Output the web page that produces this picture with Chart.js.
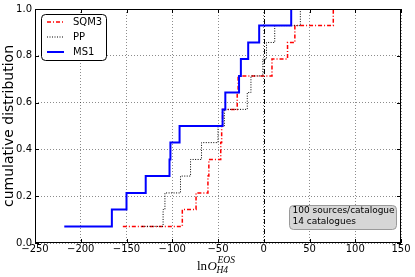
<!DOCTYPE html>
<html>
<head>
<meta charset="utf-8">
<script src="https://cdn.jsdelivr.net/npm/chart.js@4.4.0/dist/chart.umd.min.js"></script>
<style>
html,body{margin:0;padding:0;background:#fff;}
#c{display:block;}
</style>
</head>
<body>
<canvas id="c" width="415" height="277"></canvas>
<script>
/* cumulative distribution of ln O per catalogue, three models */

var cdfLevels=[0.071,0.143,0.214,0.286,0.357,0.429,0.5,0.571,0.643,0.714,0.786,0.857,0.929,1.0];
var sqm3X=[-154,-89,-74,-61,-60,-47,-46,-45,-29,-28,9,26,34,76];
var ppX=[-133,-110,-108,-91,-80,-68,-50,-43,-18,-14,-1,3,12,40];
var ms1X=[-218,-166,-150,-129,-103,-102,-92,-45,-42,-27,-25,-17,-5,30];
var seriesNames=['SQM3','PP','MS1'];
var xTicks=[-250,-200,-150,-100,-50,0,50,100,150];
var yTicks=[0,0.2,0.4,0.6,0.8,1.0];
var noteLines=['100 sources/catalogue','14 catalogues'];

function pts(xs){
  return xs.map(function(x,i){ return {x:x,y:cdfLevels[i]}; });
}

var FONT='"DejaVu Sans", sans-serif';

var decor={
  id:'decor',
  beforeDatasetsDraw:function(chart){
    var a=chart.chartArea,ctx=chart.ctx,xs=chart.scales.x;
    var px=Math.round(xs.getPixelForValue(0))+0.5;
    ctx.save();
    ctx.strokeStyle='#000';ctx.lineWidth=1;ctx.setLineDash([5,2,1,2]);
    ctx.beginPath();ctx.moveTo(px,a.top);ctx.lineTo(px,a.bottom);ctx.stroke();
    ctx.restore();
  },
  afterDraw:function(chart){
    var a=chart.chartArea,ctx=chart.ctx,xs=chart.scales.x,ys=chart.scales.y;
    ctx.save();
    ctx.strokeStyle='#000';ctx.lineWidth=1;ctx.setLineDash([]);
    // frame
    ctx.strokeRect(Math.round(a.left)+0.5,Math.round(a.top)+0.5,Math.round(a.right-a.left)-1,Math.round(a.bottom-a.top)-1);
    // inward ticks on all sides
    ctx.beginPath();
    xTicks.forEach(function(v){
      var px=Math.round(xs.getPixelForValue(v))+0.5;
      ctx.moveTo(px,a.bottom);ctx.lineTo(px,a.bottom-4);
      ctx.moveTo(px,a.top);ctx.lineTo(px,a.top+4);
    });
    yTicks.forEach(function(v){
      var py=Math.round(ys.getPixelForValue(v))+0.5;
      ctx.moveTo(a.left,py);ctx.lineTo(a.left+4,py);
      ctx.moveTo(a.right,py);ctx.lineTo(a.right-4,py);
    });
    ctx.stroke();

    // legend
    ctx.beginPath();ctx.roundRect(41.5,14.5,65,46,4);
    ctx.fillStyle='#fff';ctx.fill();ctx.strokeStyle='#000';ctx.stroke();
    chart.data.datasets.forEach(function(ds,i){
      var ry=22+i*15;
      ctx.strokeStyle=ds.borderColor;ctx.lineWidth=ds.borderWidth;ctx.setLineDash(ds.borderDash||[]);
      ctx.beginPath();ctx.moveTo(47,ry);ctx.lineTo(64,ry);ctx.stroke();
      ctx.setLineDash([]);
      ctx.fillStyle='#000';ctx.font='10px '+FONT;ctx.textAlign='left';ctx.textBaseline='middle';
      ctx.fillText(ds.label,73,ry);
    });

    // note box
    ctx.lineWidth=1;
    ctx.beginPath();ctx.roundRect(289.5,205.5,107,24,4);
    ctx.fillStyle='#d6d6d6';ctx.fill();ctx.strokeStyle='#9a9a9a';ctx.stroke();
    ctx.fillStyle='#000';ctx.font='9px '+FONT;ctx.textAlign='left';ctx.textBaseline='middle';
    noteLines.forEach(function(t,i){ ctx.fillText(t,292.5,211+i*10.5); });

    // y title
    ctx.save();
    ctx.translate(9,(a.top+a.bottom)/2);ctx.rotate(-Math.PI/2);
    ctx.font='14px '+FONT;ctx.textAlign='center';ctx.textBaseline='middle';
    ctx.fillText('cumulative distribution',0,0);
    ctx.restore();

    // x title: ln O_{H4}^{EOS}
    var x0=197,base=270;
    ctx.textAlign='left';ctx.textBaseline='alphabetic';
    ctx.font='13px "Liberation Serif", serif';
    ctx.fillText('ln',x0,base);
    x0+=ctx.measureText('ln').width+0.5;
    ctx.font='italic 13px "Liberation Serif", serif';
    ctx.fillText('O',x0,base);
    x0+=ctx.measureText('O').width+0.5;
    ctx.font='italic 9.5px "Liberation Serif", serif';
    ctx.fillText('EOS',x0,263);
    ctx.fillText('H4',x0-1,273);
    ctx.restore();
  }
};

new Chart(document.getElementById('c'),{
  type:'line',
  data:{
    datasets:[
      {label:seriesNames[0],data:pts(sqm3X),borderColor:'#ff0000',borderWidth:1.5,borderDash:[4,2,1,2],stepped:'before',pointRadius:0,fill:false,order:3},
      {label:seriesNames[1],data:pts(ppX),borderColor:'#000000',borderWidth:1,borderDash:[1,1.5],stepped:'before',pointRadius:0,fill:false,order:2},
      {label:seriesNames[2],data:pts(ms1X),borderColor:'#0000ff',borderWidth:2,stepped:'before',pointRadius:0,fill:false,order:1}
    ]
  },
  options:{
    responsive:false,animation:false,devicePixelRatio:1,
    layout:{padding:{left:0,right:14,top:8,bottom:0}},
    plugins:{legend:{display:false},tooltip:{enabled:false}},
    scales:{
      x:{
        type:'linear',min:-250,max:150,
        afterBuildTicks:function(s){ s.ticks=xTicks.map(function(v){return {value:v};}); },
        afterFit:function(s){ s.height=34; },
        grid:{color:'rgba(0,0,0,0.45)',lineWidth:1,drawTicks:false},
        border:{display:false,dash:[1,2]},
        ticks:{padding:0,color:'#000',font:{family:FONT,size:10},maxRotation:0,autoSkip:false,
          callback:function(v){ return v<0?'\u2212'+Math.abs(v):String(v); }}
      },
      y:{
        type:'linear',min:0,max:1,
        afterBuildTicks:function(s){ s.ticks=yTicks.map(function(v){return {value:v};}); },
        afterFit:function(s){ s.width=35; },
        grid:{color:'rgba(0,0,0,0.45)',lineWidth:1,drawTicks:false},
        border:{display:false,dash:[1,2]},
        ticks:{padding:3,color:'#000',font:{family:FONT,size:10},
          callback:function(v){ return v.toFixed(1); }}
      }
    }
  },
  plugins:[decor]
});
</script>
</body>
</html>
